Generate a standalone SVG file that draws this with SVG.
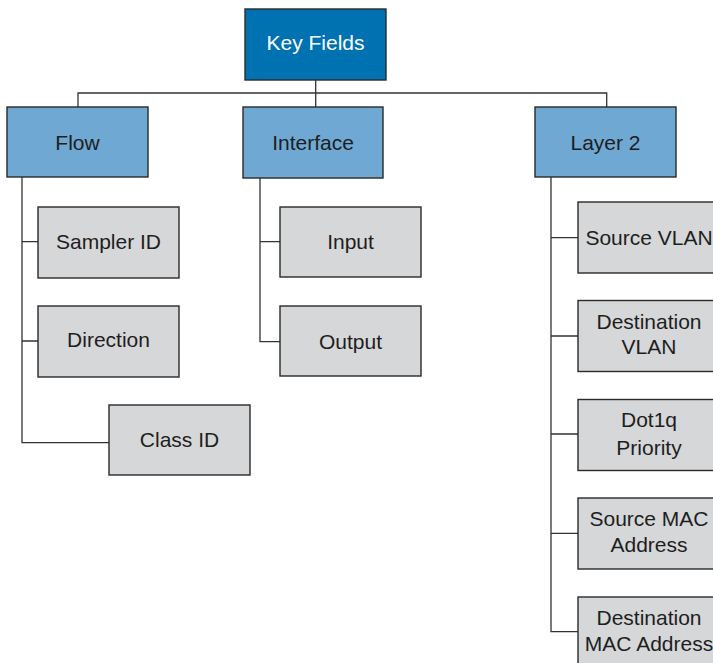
<svg xmlns="http://www.w3.org/2000/svg" width="713" height="663" viewBox="0 0 713 663">
<style>
.root{fill:#0072b1;stroke:#2a2a2a;stroke-width:1.4}
.mid{fill:#6fa8d3;stroke:#2a2a2a;stroke-width:1.4}
.leaf{fill:#d6d7d9;stroke:#2a2a2a;stroke-width:1.4}
.t{font-family:"Liberation Sans",Arial,sans-serif;font-size:21px;text-anchor:middle;fill:#1e1e1e}
.tw{fill:#ffffff}
.c{fill:none;stroke:#333;stroke-width:1.3}
</style>
<rect width="713" height="663" fill="#ffffff"/>
<g id="connectors">
<path class="c" d="M315.7,80 V107 M78,107 V93 H606.7 V107"/>
<path class="c" d="M22,177 V442.7 H109 M22,241.7 H38 M22,341 H38"/>
<path class="c" d="M260,178 V341.7 H280 M260,241.7 H280"/>
<path class="c" d="M551,177 V631.7 H578 M551,237.7 H578 M551,336 H578 M551,434 H578 M551,533.3 H578"/>
</g>
<g id="key-fields"><rect class="root" x="245" y="9" width="141" height="71"/><text class="t tw" x="315.5" y="50">Key Fields</text></g>
<g id="flow"><rect class="mid" x="7" y="107" width="141" height="70"/><text class="t" x="77.5" y="150">Flow</text></g>
<g id="interface"><rect class="mid" x="243" y="107" width="140" height="71"/><text class="t" x="313" y="150">Interface</text></g>
<g id="layer2"><rect class="mid" x="535" y="107" width="141" height="70"/><text class="t" x="605.5" y="150">Layer 2</text></g>
<g id="sampler-id"><rect class="leaf" x="38" y="207" width="141" height="71"/><text class="t" x="108.5" y="249">Sampler ID</text></g>
<g id="direction"><rect class="leaf" x="38" y="306" width="141" height="71"/><text class="t" x="108.5" y="347">Direction</text></g>
<g id="class-id"><rect class="leaf" x="109" y="405" width="141" height="70"/><text class="t" x="179.5" y="447">Class ID</text></g>
<g id="input"><rect class="leaf" x="280" y="207" width="141" height="70"/><text class="t" x="350.5" y="249">Input</text></g>
<g id="output"><rect class="leaf" x="280" y="306" width="141" height="70"/><text class="t" x="350.5" y="349">Output</text></g>
<g id="source-vlan"><rect class="leaf" x="578" y="202" width="142" height="71"/><text class="t" x="649" y="245">Source VLAN</text></g>
<g id="destination-vlan"><rect class="leaf" x="578" y="300.5" width="142" height="71"/><text class="t" x="649" y="329">Destination</text><text class="t" x="649" y="354">VLAN</text></g>
<g id="dot1q-priority"><rect class="leaf" x="578" y="399.5" width="142" height="71"/><text class="t" x="649" y="427">Dot1q</text><text class="t" x="649" y="455">Priority</text></g>
<g id="source-mac"><rect class="leaf" x="578" y="498" width="142" height="71"/><text class="t" x="649" y="525.5">Source MAC</text><text class="t" x="649" y="552">Address</text></g>
<g id="destination-mac"><rect class="leaf" x="578" y="597" width="142" height="71"/><text class="t" x="649" y="624.5">Destination</text><text class="t" x="649" y="650.5">MAC Address</text></g>
</svg>
